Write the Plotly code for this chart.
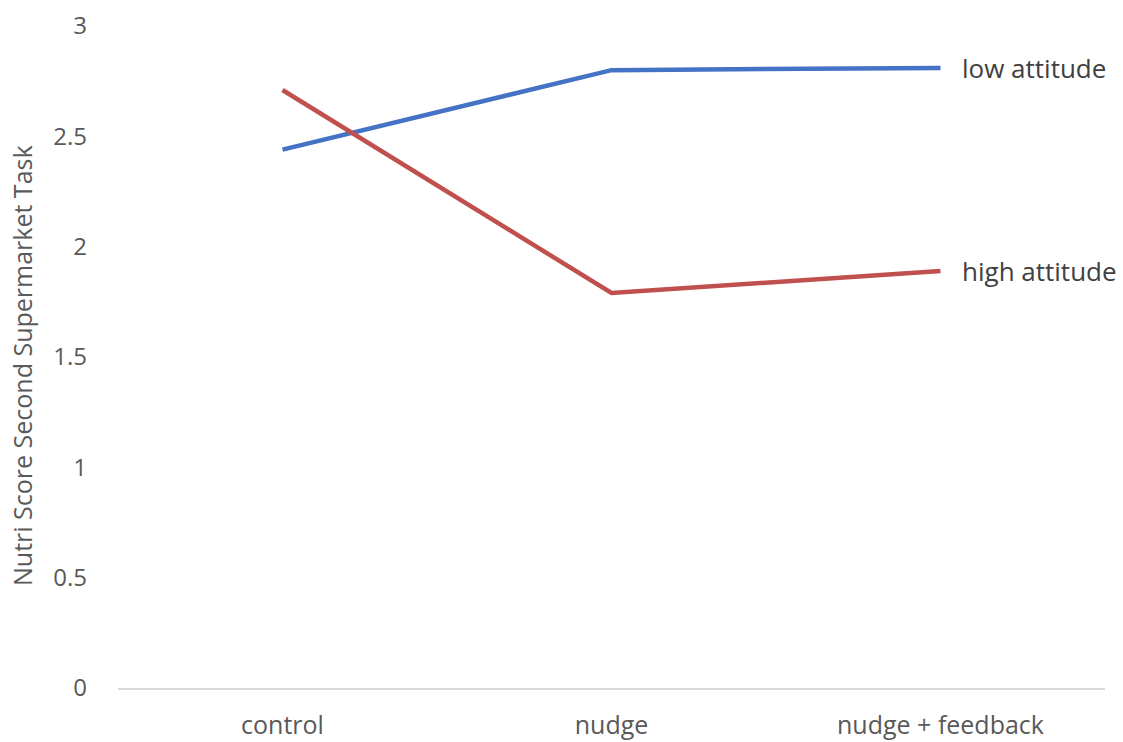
import plotly.graph_objects as go

categories = ["control", "nudge", "nudge + feedback"]
low_attitude = [2.44, 2.80, 2.81]
high_attitude = [2.71, 1.79, 1.89]
series_names = ["low attitude", "high attitude"]
y_ticks = [0, 0.5, 1, 1.5, 2, 2.5, 3]
y_tick_labels = ["0", "0.5", "1", "1.5", "2", "2.5", "3"]
y_title = "Nutri Score Second Supermarket Task"

font_family = "'Open Sans', Lato, sans-serif"
text_color = "#595959"

fig = go.Figure()
fig.add_trace(go.Scatter(x=categories, y=low_attitude, mode="lines", name=series_names[0],
                         line=dict(color="#4472C4", width=4.5), showlegend=False))
fig.add_trace(go.Scatter(x=categories, y=high_attitude, mode="lines", name=series_names[1],
                         line=dict(color="#C0504D", width=4.5), showlegend=False))

for name, vals in zip(series_names, [low_attitude, high_attitude]):
    fig.add_annotation(x=categories[-1], y=vals[-1], xref="x", yref="y", text=name,
                       showarrow=False, xanchor="left", yanchor="middle", xshift=19,
                       font=dict(family=font_family, size=26, color="#404040"))

# y-axis title placed as rotated text left of the tick labels
fig.add_annotation(x=0, y=0.5, xref="paper", yref="paper", text=y_title,
                   showarrow=False, textangle=-90, xanchor="center", yanchor="middle",
                   xshift=-96, yshift=-9,
                   font=dict(family=font_family, size=25, color=text_color))

fig.update_layout(
    width=1123, height=742,
    margin=dict(l=118, r=18, t=26, b=54),
    plot_bgcolor="white", paper_bgcolor="white",
    font=dict(family=font_family, color=text_color),
    xaxis=dict(type="category", range=[-0.5, 2.5], showgrid=False, showline=True,
               linecolor="#d9d9d9", linewidth=1.5, ticks="", zeroline=False,
               automargin=False,
               tickfont=dict(size=25, color=text_color), ticklabelstandoff=14),
    yaxis=dict(range=[0, 3], tickvals=y_ticks, ticktext=y_tick_labels, showgrid=False,
               showline=False, zeroline=False, ticks="", automargin=False,
               tickfont=dict(size=24, color=text_color), ticklabelstandoff=30),
)

fig.write_html("out.html")
